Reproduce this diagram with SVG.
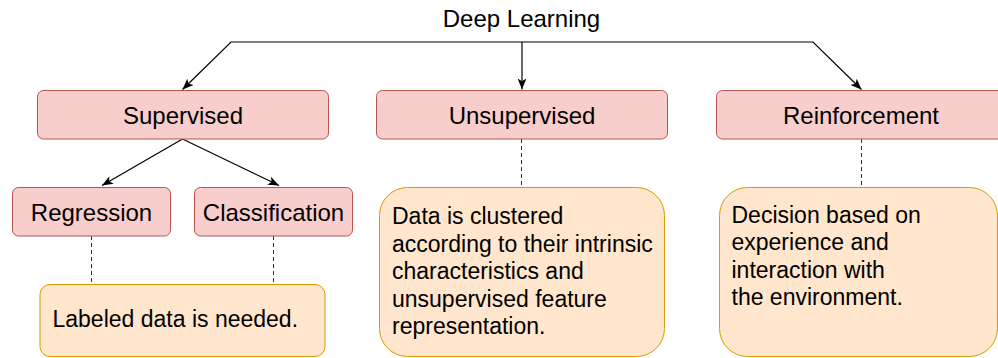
<svg xmlns="http://www.w3.org/2000/svg" width="998" height="358" viewBox="0 0 998 358">
  <style>
    .title { fill: #f8cecc; stroke: #b85450; stroke-width: 1; }
    .note { fill: #ffe6cc; stroke: #d79b00; stroke-width: 1; }
    .t24 { font-family: "Liberation Sans", Arial, sans-serif; font-size: 24px; fill: #000; }
    .t23 { font-family: "Liberation Sans", Arial, sans-serif; font-size: 23px; fill: #000; }
    .edge { fill: none; stroke: #000; stroke-width: 1.2; }
    .link { fill: none; stroke: #333; stroke-width: 1; stroke-dasharray: 4 3; }
  </style>
  <defs>
    <marker id="arrow" markerUnits="userSpaceOnUse" viewBox="0 0 10 8" refX="10" refY="4" markerWidth="11" markerHeight="9" orient="auto">
      <path d="M0,0 L10,4 L0,8 L2.5,4 Z" fill="#000"/>
    </marker>
  </defs>

  <rect width="998" height="358" fill="#fff"/>

  <!-- connectors -->
  <g id="connectors">
    <path class="edge" d="M522,42 L231,42 L182.5,89.5" marker-end="url(#arrow)"/>
    <path class="edge" d="M522,42 L522,89.5" marker-end="url(#arrow)"/>
    <path class="edge" d="M522,42 L813,42 L861.5,89.5" marker-end="url(#arrow)"/>
    <path class="edge" d="M182.5,139 L102,185.5" marker-end="url(#arrow)"/>
    <path class="edge" d="M182.5,139 L279,185.5" marker-end="url(#arrow)"/>
    <path class="link" d="M91.5,236 L91.5,284"/>
    <path class="link" d="M273.5,236 L273.5,284"/>
    <path class="link" d="M521.5,139 L521.5,187"/>
    <path class="link" d="M861.5,139 L861.5,187"/>
  </g>

  <g id="deep-learning">
    <text class="t24" x="521.5" y="27" text-anchor="middle">Deep Learning</text>
  </g>

  <g id="supervised">
    <rect class="title" x="37.5" y="90.5" width="291" height="48.5" rx="6"/>
    <text class="t24" x="183" y="123.5" text-anchor="middle">Supervised</text>
  </g>

  <g id="unsupervised">
    <rect class="title" x="376.5" y="90.5" width="291" height="48.5" rx="6"/>
    <text class="t24" x="522" y="123.5" text-anchor="middle">Unsupervised</text>
  </g>

  <g id="reinforcement">
    <rect class="title" x="716.5" y="90.5" width="291" height="48.5" rx="6"/>
    <text class="t24" x="861" y="123.5" text-anchor="middle">Reinforcement</text>
  </g>

  <g id="regression">
    <rect class="title" x="12.5" y="187.5" width="158" height="48.5" rx="6"/>
    <text class="t24" x="91.5" y="220.5" text-anchor="middle">Regression</text>
  </g>

  <g id="classification">
    <rect class="title" x="194.5" y="187.5" width="158" height="48.5" rx="6"/>
    <text class="t24" x="273.5" y="220.5" text-anchor="middle">Classification</text>
  </g>

  <g id="labeled-note">
    <rect class="note" x="40" y="284.5" width="285" height="72" rx="10"/>
    <text class="t23" x="52.5" y="326.5">Labeled data is needed.</text>
  </g>

  <g id="unsupervised-note">
    <rect class="note" x="379.5" y="187.5" width="285" height="169" rx="28"/>
    <text class="t23" x="392" y="224">
      <tspan x="392" y="224">Data is clustered</tspan>
      <tspan x="392" y="251.6">according to their intrinsic</tspan>
      <tspan x="392" y="279.2">characteristics and</tspan>
      <tspan x="392" y="306.8">unsupervised feature</tspan>
      <tspan x="392" y="334.4">representation.</tspan>
    </text>
  </g>

  <g id="reinforcement-note">
    <rect class="note" x="719.5" y="187.5" width="278" height="169" rx="28"/>
    <text class="t23" x="731.5" y="222.5">
      <tspan x="731.5" y="222.5">Decision based on</tspan>
      <tspan x="731.5" y="250.1">experience and</tspan>
      <tspan x="731.5" y="277.7">interaction with</tspan>
      <tspan x="731.5" y="305.3">the environment.</tspan>
    </text>
  </g>
</svg>
